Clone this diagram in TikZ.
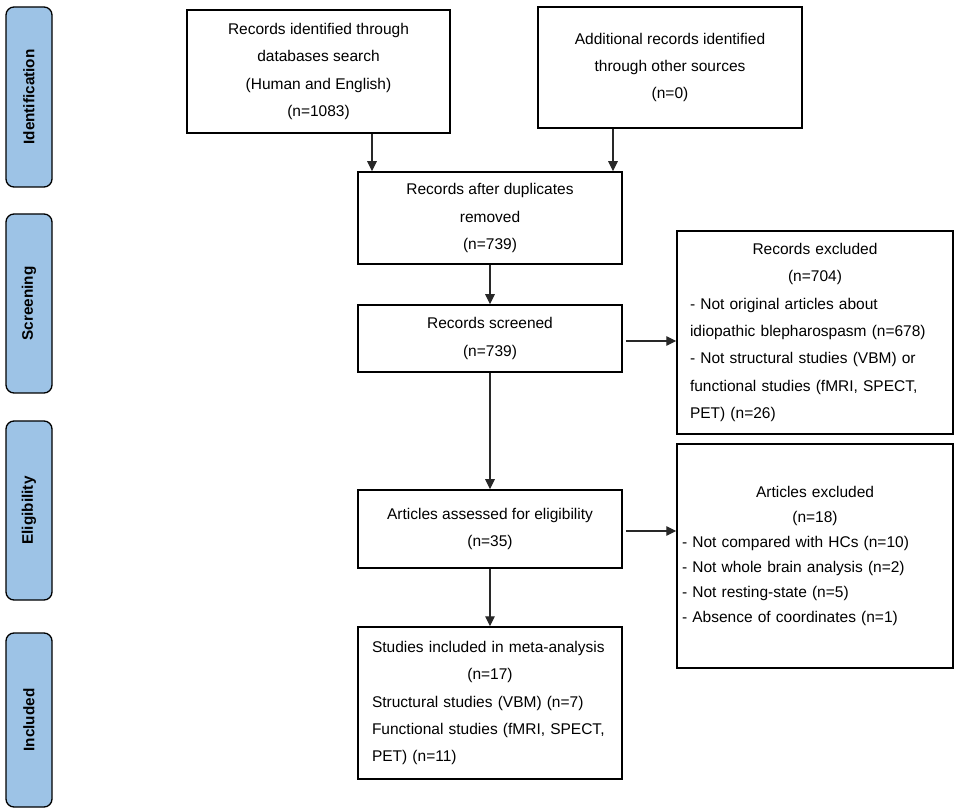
\documentclass[tikz,border=0pt]{standalone}
\usepackage{fontspec}
\setmainfont{Liberation Sans}
\usetikzlibrary{arrows.meta}
\definecolor{sideblue}{RGB}{157,195,230}
\definecolor{arrgray}{RGB}{40,40,40}
\tikzset{
  box/.style={draw=black, line width=1.5pt, rectangle, inner sep=0pt, align=center,
    font=\fontsize{15.5}{27.3}\selectfont},
  sidebox/.style={draw=black, line width=1.3pt, fill=sideblue, rounded corners=8pt,
    rotate=90, inner sep=0pt, font=\fontsize{15.3}{18}\selectfont\bfseries},
  arr/.style={draw=arrgray, line width=1.1pt, -{Triangle[length=10pt,width=9.5pt]}}
}
\begin{document}
\begin{tikzpicture}[x=1pt,y=1pt]
\useasboundingbox (0,0) rectangle (957,811);
% side labels
\node[sidebox, minimum width=180pt, minimum height=46pt] (s1) at (29,714) {Identification};
\node[sidebox, minimum width=179pt, minimum height=46pt] (s2) at (29,507.5) {Screening};
\node[sidebox, minimum width=179pt, minimum height=46pt] (s3) at (29,300.5) {Eligibility};
\node[sidebox, minimum width=174pt, minimum height=46pt] (s4) at (29,91) {Included};
% main boxes
\node[box, minimum width=263pt, minimum height=123pt] (b1) at (318.5,739.5)
  {Records identified through\\databases search\\(Human and English)\\(n=1083)};
\node[box, minimum width=264pt, minimum height=121pt] (b2) at (670,743.5)
  {Additional records identified\\through other sources\\(n=0)};
\node[box, minimum width=264pt, minimum height=92pt] (b3) at (490,593)
  {Records after duplicates\\removed\\(n=739)};
\node[box, minimum width=264pt, minimum height=67pt] (b4) at (490,472.5)
  {Records screened\\(n=739)};
\node[box, minimum width=264pt, minimum height=78pt] (b5) at (490,282)
  {Articles assessed for eligibility\\(n=35)};
\node[box, minimum width=264pt, minimum height=152pt, text width=236pt, align=left] (b6) at (490,108)
  {Studies included in meta-analysis\\\makebox[236pt]{(n=17)}\\Structural studies (VBM) (n=7)\\Functional studies (fMRI, SPECT,\\PET) (n=11)};
% exclusion boxes
\node[box, minimum width=276pt, minimum height=203pt, text width=250pt, align=left] (e1) at (815,478.5)
  {\makebox[250pt]{Records excluded}\\\makebox[250pt]{(n=704)}\\- Not original articles about\\idiopathic blepharospasm (n=678)\\- Not structural studies (VBM) or\\functional studies (fMRI, SPECT,\\PET) (n=26)};
\node[box, minimum width=276pt, minimum height=224pt, text width=266pt, align=left,
  font=\fontsize{15.5}{25}\selectfont] (e2) at (815,255)
  {\makebox[266pt]{Articles excluded}\\\makebox[266pt]{(n=18)}\\- Not compared with HCs (n=10)\\- Not whole brain analysis (n=2)\\- Not resting-state (n=5)\\- Absence of coordinates (n=1)};
% connectors
\coordinate (xa) at (372,0);
\coordinate (xb) at (613,0);
\draw[arr] (xa |- b1.south) -- (xa |- b3.north);
\draw[arr] (xb |- b2.south) -- (xb |- b3.north);
\draw[arr] (b3.south) -- (b4.north);
\draw[arr] (b4.south) -- (b5.north);
\draw[arr] (b5.south) -- (b6.north);
\coordinate (ya) at (0,470);
\coordinate (yb) at (0,280);
\draw[arr] ([xshift=3pt]b4.east |- ya) -- (e1.west |- ya);
\draw[arr] ([xshift=3pt]b5.east |- yb) -- (e2.west |- yb);
\end{tikzpicture}
\end{document}
